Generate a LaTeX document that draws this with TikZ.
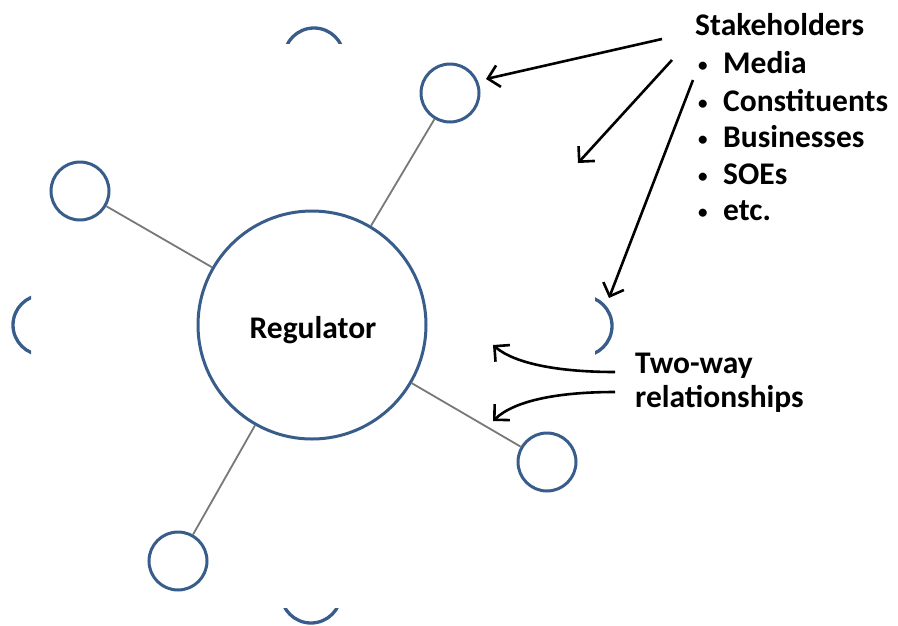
\documentclass[tikz,border=0pt]{standalone}
\usepackage{fontspec}
\setmainfont{Carlito}
\usetikzlibrary{arrows.meta}
\definecolor{circblue}{RGB}{56,93,138}
\definecolor{linkgray}{RGB}{120,120,120}
\newcommand\bul{\makebox[26pt][l]{\hspace{1pt}{\fontsize{19pt}{19pt}\selectfont\raisebox{2pt}{•}}}}
\begin{document}
\begin{tikzpicture}[x=1pt,y=-1pt,
  bigc/.style={circle,draw=circblue,line width=3pt,minimum size=228pt,inner sep=0pt},
  smallc/.style={circle,draw=circblue,line width=3pt,minimum size=58pt,inner sep=0pt},
  partarc/.style={draw=circblue,line width=3.3pt},
  link/.style={draw=linkgray,line width=1.8pt},
  lbl/.style={font=\fontsize{31.5pt}{36pt}\selectfont\bfseries,inner sep=0pt,anchor=base west},
  arr/.style={draw=black,line width=2.6pt,-{Straight Barb[length=11pt,width=22pt]}}
]
\path[use as bounding box] (0,0) rectangle (898,625);

% central regulator
\node[bigc] (R) at (312,325) {};
\node[lbl,anchor=base] (regtxt) at (313,338) {Regulator};

% stakeholder circles
\node[smallc] (s1) at (450,93) {};
\node[smallc] (s2) at (80,191) {};
\node[smallc] (s3) at (547,462) {};
\node[smallc] (s4) at (178,561) {};

\draw[link] (R) -- (s1);
\draw[link] (R) -- (s2);
\draw[link] (R) -- (s3);
\draw[link] (R) -- (s4);

% partial circles
\begin{scope}
  \clip (250,0) rectangle (380,43);
  \draw[partarc] (314,58) circle[radius=30pt];
\end{scope}
\begin{scope}
  \clip (0,280) rectangle (31,370);
  \draw[partarc] (43,325) circle[radius=30pt];
\end{scope}
\begin{scope}
  \clip (595,280) rectangle (640,370);
  \draw[partarc] (582,326) circle[radius=30pt];
\end{scope}
\begin{scope}
  \clip (250,608) rectangle (380,625);
  \draw[partarc] (311,593) circle[radius=30pt];
\end{scope}

% stakeholder list
\node[lbl] (stake) at (695,35) {Stakeholders};
\node[lbl] (media) at (697,73) {\bul Media};
\node[lbl] (const) at (697,111) {\bul Constituents};
\node[lbl] (busi) at (697,147) {\bul Businesses};
\node[lbl] (soes) at (697,184) {\bul SOEs};
\node[lbl] (etc) at (697,220) {\bul etc.};

% two-way label
\node[lbl] (two) at (635,373) {Two-way};
\node[lbl] (rel) at (635,407) {relationships};

% arrows
\coordinate (a1s) at (662,39);
\coordinate (a1e) at (486,79);
\coordinate (a2s) at (672,60);
\coordinate (a2e) at (578,163);
\coordinate (a3s) at (693,80);
\coordinate (a3e) at (609,298);
\draw[arr] (a1s) -- (a1e);
\draw[arr] (a2s) -- (a2e);
\draw[arr] (a3s) -- (a3e);

\coordinate (t1s) at (615,372);
\coordinate (t1e) at (493,345);
\coordinate (t2s) at (615,392);
\coordinate (t2e) at (493,421);
\draw[arr] (t1s) .. controls (560,372) and (515,364) .. (t1e);
\draw[arr] (t2s) .. controls (560,392) and (515,400) .. (t2e);
\end{tikzpicture}
\end{document}
